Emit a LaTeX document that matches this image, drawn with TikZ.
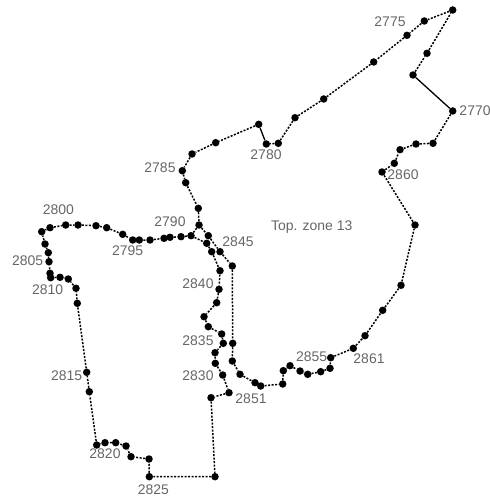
\documentclass[tikz,border=0pt]{standalone}
\usepackage{fontspec}
\setmainfont{Liberation Sans}
\tikzset{
  pt/.style={circle,fill=black,inner sep=0pt,minimum size=7.5bp},
  lk/.style={line width=1.5bp,dash pattern=on 2bp off 1.5bp},
  sol/.style={line width=1.3bp},
  lab/.style={text=black!60,font=\fontsize{14}{15}\selectfont,inner sep=0pt}
}
\newcommand{\ptn}[3]{\node[pt] (#1) at (#2,#3) {};}
\newcommand{\lbl}[3]{\node[lab] (#1) at (#2,#3) {#1};}
\begin{document}
\begin{tikzpicture}[x=1bp,y=-1bp]
\useasboundingbox (0,0) rectangle (490,500);
% outer loop
\ptn{a1}{452.7}{10}\ptn{a2}{424.3}{21}\ptn{a3}{407}{35.3}\ptn{a4}{373.7}{62}\ptn{a5}{323.7}{99}
\ptn{a6}{295}{117.7}\ptn{a7}{278.3}{143.3}\ptn{a8}{266.3}{144}\ptn{a9}{258.7}{124.3}\ptn{a10}{215.7}{142.7}
\ptn{a11}{192}{154}\ptn{a12}{182.3}{170.7}\ptn{a13}{185.7}{182.7}\ptn{a14}{198.3}{208.3}\ptn{a15}{199}{225}
\ptn{a16}{208.3}{235.7}\ptn{a17}{220}{251.7}\ptn{a18}{232.3}{266}\ptn{a19}{232.7}{343.3}\ptn{a20}{232.3}{361}
\ptn{a21}{240}{374.3}\ptn{a22}{255}{382.7}\ptn{a23}{260.7}{386}\ptn{a24}{282.7}{384}\ptn{a25}{283.3}{370.7}
\ptn{a26}{290}{365.7}\ptn{a27}{300}{371}\ptn{a28}{307.7}{374.3}\ptn{a29}{320.7}{371.7}\ptn{a30}{330}{368.3}
\ptn{a31}{330.7}{357.7}\ptn{a32}{353.3}{348.3}\ptn{a33}{365}{335.7}\ptn{a34}{382.7}{310.3}\ptn{a35}{401}{285.3}
\ptn{a36}{415}{225}\ptn{a37}{382}{172}\ptn{a38}{394.3}{163.3}\ptn{a39}{400}{149.7}\ptn{a40}{416}{144}
\ptn{a41}{433}{143.3}\ptn{a42}{452.7}{111}\ptn{a43}{413}{75}\ptn{a44}{427}{53.3}
% inner loop
\ptn{b1}{191}{235.7}\ptn{b2}{206.7}{243.3}\ptn{b3}{211.7}{251.7}\ptn{b4}{220}{270.7}\ptn{b5}{219}{289.3}
\ptn{b6}{216.7}{302.7}\ptn{b7}{204}{316.7}\ptn{b8}{208.3}{326.7}\ptn{b9}{221.7}{334}\ptn{b10}{223.3}{343.3}
\ptn{b11}{215}{352.7}\ptn{b12}{215.3}{363.3}\ptn{b13}{222.7}{375}\ptn{b14}{229}{392.7}\ptn{b15}{211}{397.7}
\ptn{b16}{215}{476.7}\ptn{b17}{149.3}{476.7}\ptn{b18}{149}{459}\ptn{b19}{131}{456.7}\ptn{b20}{126}{446}
\ptn{b21}{115.7}{442.7}\ptn{b22}{105}{442.7}\ptn{b23}{96.7}{445}\ptn{b24}{89.3}{391.7}\ptn{b25}{86.7}{372.3}
\ptn{b26}{77.3}{303.3}\ptn{b27}{76}{288.3}\ptn{b28}{68.3}{279}\ptn{b29}{60}{277.3}\ptn{b30}{50.7}{277.7}
\ptn{b31}{50}{273.3}\ptn{b32}{49}{261.7}\ptn{b33}{48.3}{252.7}\ptn{b34}{45}{244}\ptn{b35}{41.7}{231.7}
\ptn{b36}{50}{227.7}\ptn{b37}{65.7}{225}\ptn{b38}{78}{225}\ptn{b39}{96}{225.7}\ptn{b40}{106.7}{227.7}
\ptn{b41}{122.7}{234.3}\ptn{b42}{132.7}{240}\ptn{b43}{139.3}{240}\ptn{b44}{150}{240}\ptn{b45}{164}{238.3}
\ptn{b46}{170}{237.3}\ptn{b47}{181}{236.7}
% connectors
\draw[lk] (a1)--(a2)--(a3)--(a4)--(a5)--(a6)--(a7)--(a8);
\draw[sol] (a8)--(a9);
\draw[lk] (a9)--(a10)--(a11)--(a12)--(a13)--(a14)--(a15)--(a16)--(a17)--(a18)--(a19)--(a20)--(a21)--(a22)--(a23)--(a24)--(a25)--(a26)--(a27)--(a28)--(a29)--(a30)--(a31)--(a32)--(a33)--(a34)--(a35)--(a36)--(a37)--(a38)--(a39)--(a40)--(a41)--(a42);
\draw[sol] (a42)--(a43);
\draw[lk] (a43)--(a44)--(a1);
\draw[lk] (a15)--(b1)--(b2)--(b3)--(b4)--(b5)--(b6)--(b7)--(b8)--(b9)--(b10)--(b11)--(b12)--(b13)--(b14)--(b15)--(b16)--(b17)--(b18)--(b19)--(b20)--(b21)--(b22)--(b23)--(b24)--(b25)--(b26)--(b27)--(b28)--(b29)--(b30)--(b31)--(b32)--(b33)--(b34)--(b35)--(b36)--(b37)--(b38)--(b39)--(b40)--(b41)--(b42)--(b43)--(b44)--(b45)--(b46)--(b47)--(b1);
% labels
\lbl{2775}{390}{21.7}\lbl{2770}{475}{111}\lbl{2860}{403}{175}\lbl{2780}{266}{155}\lbl{2785}{160}{168}
\lbl{2790}{170}{221.7}\lbl{2795}{127.7}{251}\lbl{2800}{58.3}{210}\lbl{2805}{27.7}{260.7}\lbl{2810}{47.7}{290}
\lbl{2815}{66.7}{375.7}\lbl{2820}{105}{454}\lbl{2825}{153.3}{490}\lbl{2830}{198}{375.7}\lbl{2835}{198}{340.7}
\lbl{2840}{198}{284}\lbl{2845}{238}{241.7}\lbl{2851}{251}{399}\lbl{2855}{311.7}{356.7}\lbl{2861}{369}{359}
\node[lab] (zone) at (311.7,226.7) {Top. zone 13};
\end{tikzpicture}
\end{document}
